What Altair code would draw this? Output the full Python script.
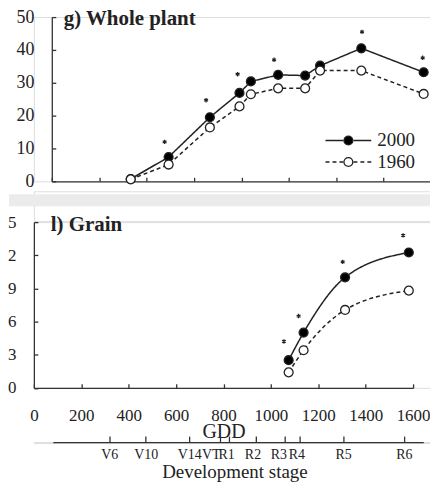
import altair as alt
import pandas as pd

# ---------------- data ----------------
series = ["2000", "1960"]
series_num = [2000, 1960]

gdd_plant = [333, 493, 667, 792, 840, 955, 1069, 1132, 1306, 1569]
plant_2000 = [0.7, 7.4, 19.5, 26.9, 30.4, 32.4, 32.2, 35.2, 40.5, 33.2]
plant_1960 = [0.6, 5.1, 16.4, 22.8, 26.5, 28.3, 28.3, 33.7, 33.7, 26.6]
plant_star_gdd = [476, 651, 784, 938, 1309, 1565]
plant_star_y = [12.0, 24.7, 32.6, 37.0, 45.5, 37.6]

gdd_grain = [1075, 1138, 1313, 1582]
grain_2000 = [2.5, 5.0, 10.0, 12.25]
grain_1960 = [1.4, 3.4, 7.05, 8.8]
grain_star_gdd = [1055, 1117, 1303, 1558]
grain_star_y = [4.2, 6.5, 11.4, 13.8]

stage_names = ["V6", "V10", "V14", "VT", "R1", "R2", "R3", "R4", "R5", "R6"]
stage_gdd = [318, 472, 655, 784, 824, 935, 1057, 1120, 1305, 1561]

gdd_ticks = [0, 200, 400, 600, 800, 1000, 1200, 1400, 1600]
plant_ticks = [0, 10, 20, 30, 40, 50]
grain_ticks = [0, 3, 6, 9, 12, 15]

# ---------------- style ----------------
SERIF = "Liberation Serif, Times New Roman, DejaVu Serif, serif"
INK = "#222222"
PX = 381 / 1600          # pixels per GDD unit
W = 401
TOP_SHIFT = 18
H_TOP = 165
H_BOT = 166.5
stage_domain = [80, 1643]
stage_nudge = {784: -9, 824: -3, 935: -3, 1057: -6, 1120: -3}
ASTERISK = "M0,-1L0,1M-0.87,-0.5L0.87,0.5M-0.87,0.5L0.87,-0.5"


def long_df(gdd, a, b):
    rows = []
    for s, n, vals in ((series[0], series_num[0], a), (series[1], series_num[1], b)):
        for g, v in zip(gdd, vals):
            rows.append({"gdd": g, "val": v, "series": s, "yr": n})
    return pd.DataFrame(rows)


plant_df = long_df(gdd_plant, plant_2000, plant_1960)
grain_df = long_df(gdd_grain, grain_2000, grain_1960)
plant_star = pd.DataFrame({"gdd": plant_star_gdd, "val": plant_star_y})
grain_star = pd.DataFrame({"gdd": grain_star_gdd, "val": grain_star_y})
stage_df = pd.DataFrame({"gdd": stage_gdd, "name": stage_names, "lvl": [0] * len(stage_gdd)})

dash_scale = alt.Scale(domain=series, range=[[1, 0], [4, 3]])
fill_scale = alt.Scale(domain=series_num, range=["black", "white"])


def panel(df, star_df, xscale, ymax, yticks, ylabsize, title, title_dx, title_off, height,
          show_xlabels, interp, with_legend, yoffset):
    yscale = alt.Scale(domain=[0, ymax], nice=False)
    base = alt.Chart(df)
    xtitle = dict(title="GDD", titleFontSize=20, titleFont=SERIF, titleFontWeight="normal",
                  titleColor=INK, titleY=50, titleBaseline="alphabetic") if show_xlabels else dict(title=None)
    x_main_axis = alt.Axis(orient="bottom", values=gdd_ticks, ticks=False, tickSize=0,
                           labels=show_xlabels, labelFontSize=17, labelPadding=20,
                           labelFlush=False, labelOverlap=False, format="d",
                           domainColor="#333", domainWidth=1.3, grid=False,
                           labelColor=INK, labelFont=SERIF, **xtitle)
    y_main_axis = alt.Axis(orient="left", offset=-yoffset, values=yticks, ticks=False,
                           tickSize=0, labelFontSize=ylabsize, labelPadding=18, format="d",
                           labelFlush=False, title=None, domainColor="#333",
                           domainWidth=1.3, grid=False, labelColor=INK, labelFont=SERIF)
    x_tick_axis = alt.Axis(orient="top", offset=-height, values=gdd_ticks, labels=False,
                           domain=False, ticks=True, tickSize=4, tickColor="#333",
                           tickWidth=1.3, title=None, grid=False)
    y_tick_axis = alt.Axis(orient="right", offset=-(W - yoffset), values=yticks,
                           labels=False, domain=False, ticks=True, tickSize=4,
                           tickColor="#333", tickWidth=1.3, title=None, grid=False)

    if with_legend:
        dash_legend = alt.Legend(orient="none", legendX=292, legendY=115, title=None,
                                 symbolType="M-1,0L-0.22,0M0.22,0L1,0", symbolSize=2116,
                                 symbolStrokeColor=INK, symbolStrokeWidth=1.5,
                                 labelFontSize=19, labelFont=SERIF, labelColor=INK,
                                 labelOffset=5, clipHeight=18, rowPadding=2.6, padding=0)
        fill_legend = alt.Legend(orient="none", legendX=306.5, legendY=115, title=None,
                                 symbolType="circle", symbolSize=80,
                                 symbolStrokeColor=INK, symbolStrokeWidth=1.3,
                                 labelFontSize=19, labelExpr="''", clipHeight=18,
                                 rowPadding=2.6, padding=0)
    else:
        dash_legend = None
        fill_legend = None

    line = base.mark_line(color=INK, strokeWidth=1.5, interpolate=interp).encode(
        x=alt.X("gdd:Q", scale=xscale, axis=x_main_axis),
        y=alt.Y("val:Q", scale=yscale, axis=y_main_axis),
        strokeDash=alt.StrokeDash("series:N", scale=dash_scale, legend=dash_legend),
    )
    pts = base.mark_point(filled=True, size=80, stroke=INK, strokeWidth=1.3, opacity=1).encode(
        x=alt.X("gdd:Q", scale=xscale, axis=x_tick_axis),
        y=alt.Y("val:Q", scale=yscale, axis=y_tick_axis),
        fill=alt.Fill("yr:N", scale=fill_scale, legend=fill_legend),
    )
    stars = alt.Chart(star_df).mark_point(shape=ASTERISK, size=20, filled=False, stroke=INK,
                                          strokeWidth=1.2, opacity=1).encode(
        x=alt.X("gdd:Q", scale=xscale, axis=None),
        y=alt.Y("val:Q", scale=yscale, axis=None),
    )
    return alt.layer(line, pts, stars).resolve_axis(x="independent", y="independent").properties(
        width=W, height=height,
        title=alt.Title(title, anchor="start", frame="group", orient="top", fontSize=21,
                        font=SERIF, fontWeight="bold", color=INK, dx=title_dx,
                        offset=title_off, baseline="alphabetic"),
    )


top_x = alt.Scale(domain=[0, 1600], range=[TOP_SHIFT, TOP_SHIFT + 1600 * PX], nice=False)
bot_x = alt.Scale(domain=[0, 1600], range=[0, 1600 * PX], nice=False)

top = panel(plant_df, plant_star, top_x, 50, plant_ticks, 18, "g) Whole plant", 30, -38, H_TOP,
            False, "linear", True, TOP_SHIFT)
bottom = panel(grain_df, grain_star, bot_x, 15, grain_ticks, 17, "l) Grain", 17, -39, H_BOT,
               True, "monotone", False, 0)

# light grey separator band between the two cropped panels
band_df = pd.DataFrame({"x0": [0], "x1": [1], "y0": [0], "y1": [1]})
band = alt.Chart(band_df).mark_rect(color="#ebebeb").encode(
    x=alt.X("x0:Q", scale=alt.Scale(domain=[0, 1], range=[-25, W]), axis=None),
    x2="x1:Q",
    y=alt.Y("y0:Q", scale=alt.Scale(domain=[0, 1], range=[15, 3]), axis=None),
    y2="y1:Q",
).properties(width=W, height=30)

stage_x = alt.Scale(domain=stage_domain, range=[stage_domain[0] * PX, stage_domain[1] * PX],
                    nice=False, zero=False)
stage_y = alt.Scale(domain=[0, 1], range=[0, 1])
label_expr = " : ".join(f"datum.value == {g} ? '{n}'" for g, n in zip(stage_gdd, stage_names)) + " : ''"
nudge_cond = {"condition": [{"test": f"datum.value == {g}", "value": d} for g, d in stage_nudge.items()],
              "value": 0}

stage_top = alt.Chart(stage_df).mark_point(opacity=0, size=1).encode(
    x=alt.X("gdd:Q", scale=stage_x,
            axis=alt.Axis(orient="top", values=stage_gdd, labels=False, ticks=True, tickSize=6,
                          tickColor="#333", tickWidth=1.3, domain=True, domainColor="#333",
                          domainWidth=1.3, grid=False, title=None, minExtent=13)),
    y=alt.Y("lvl:Q", scale=stage_y, axis=None),
)
stage_bot = alt.Chart(stage_df).mark_point(opacity=0, size=1).encode(
    x=alt.X("gdd:Q", scale=stage_x,
            axis=alt.Axis(orient="bottom", values=stage_gdd, labelExpr=label_expr, ticks=False,
                          tickSize=0, domain=False, grid=False, labelFontSize=14,
                          labelFont=SERIF, labelColor=INK, labelPadding=5, labelFlush=False,
                          labelOverlap=False, labelOffset=nudge_cond,
                          title="Development stage", titleFontSize=19,
                          titleFont=SERIF, titleFontWeight="normal", titleColor=INK,
                          titlePadding=1, titleX=201.5)),
    y=alt.Y("lvl:Q", scale=stage_y, axis=None),
)
stage = alt.layer(stage_top, stage_bot).resolve_axis(x="independent").properties(width=W, height=1)

chart = alt.vconcat(top, band, bottom, stage, spacing=-15).properties(
    padding={"left": -10, "top": -2, "right": -4, "bottom": 0}
).configure_view(stroke=None).configure(background="white", font=SERIF)

chart.save("out.html", embed_options={"renderer": "svg", "actions": False})
